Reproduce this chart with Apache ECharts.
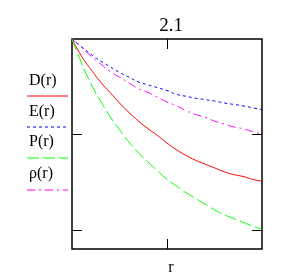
<!DOCTYPE html>
<html>
<head>
<meta charset="utf-8">
<script src="https://cdn.jsdelivr.net/npm/echarts@6/dist/echarts.min.js"></script>
<style>
  html, body { margin: 0; padding: 0; background: #fff; }
  #chart { width: 292px; height: 274px; }
</style>
</head>
<body>
<div id="chart"></div>
<script>
// r values 0 .. 2, step 0.1
var rValues = [0, 0.1, 0.2, 0.3, 0.4, 0.5, 0.6, 0.7, 0.8, 0.9, 1.0,
  1.1, 1.2, 1.3, 1.4, 1.5, 1.6, 1.7, 1.8, 1.9, 2.0];
var seriesNames = ['D(r)', 'E(r)', 'P(r)', 'ρ(r)'];
var dValues = [2.0, 1.82, 1.68, 1.55, 1.44, 1.33, 1.23, 1.14, 1.06, 0.99, 0.91,
  0.84, 0.78, 0.73, 0.69, 0.65, 0.61, 0.58, 0.56, 0.53, 0.51];
var eValues = [2.0, 1.92, 1.84, 1.77, 1.71, 1.65, 1.60, 1.55, 1.52, 1.49, 1.46,
  1.42, 1.40, 1.38, 1.365, 1.35, 1.33, 1.315, 1.30, 1.28, 1.26];
var pValues = [2.0, 1.75, 1.53, 1.35, 1.19, 1.05, 0.92, 0.81, 0.71, 0.62, 0.53,
  0.46, 0.39, 0.33, 0.27, 0.21, 0.16, 0.12, 0.08, 0.04, 0.01];
var rhoValues = [2.0, 1.91, 1.82, 1.74, 1.66, 1.60, 1.54, 1.48, 1.44, 1.39, 1.34,
  1.30, 1.25, 1.21, 1.18, 1.14, 1.11, 1.08, 1.06, 1.03, 1.00];
var yTickValues = [0, 1];
var xTickValues = [1];

var colors = ['#ff0000', '#0000ff', '#00ff00', '#ff00ff'];
var dashes = ['solid', [3, 3], [12, 4], [8, 4, 2, 4]];
var allValues = [dValues, eValues, pValues, rhoValues];
var serif = 'Liberation Serif';
var yMin = -0.2, yMax = 2;
var tickLen = 0.105; // about 10px in y units

function pairs(ys) {
  return rValues.map(function (r, i) { return [r, ys[i]]; });
}

// short vertical ticks on top and bottom edge at each x tick value
var xTickMarks = [];
xTickValues.forEach(function (v) {
  xTickMarks.push([{ coord: [v, yMin] }, { coord: [v, yMin + tickLen] }]);
  xTickMarks.push([{ coord: [v, yMax] }, { coord: [v, yMax - tickLen] }]);
});

var chart = echarts.init(document.getElementById('chart'));

var series = seriesNames.map(function (name, i) {
  return {
    name: name,
    type: 'line',
    smooth: true,
    showSymbol: false,
    silent: true,
    data: pairs(allValues[i]),
    lineStyle: { color: colors[i], width: 1, type: dashes[i] },
    z: 2
  };
});
series[0].markLine = {
  silent: true,
  symbol: ['none', 'none'],
  label: { show: false },
  lineStyle: { color: '#000', width: 1, type: 'solid' },
  data: xTickMarks
};

// legend at the left: label text with line sample under it
var legendTextY = [82, 113, 143, 175];
var legendLineY = [96, 127, 158, 190];
var graphics = [];
seriesNames.forEach(function (name, i) {
  graphics.push({
    type: 'text',
    left: 29,
    top: legendTextY[i] - 9,
    style: { text: name, font: '16px "' + serif + '"', fill: '#000' }
  });
  graphics.push({
    type: 'line',
    shape: { x1: 27, y1: legendLineY[i], x2: 68, y2: legendLineY[i] },
    style: { stroke: colors[i], lineWidth: 1, lineDash: dashes[i] === 'solid' ? null : dashes[i] }
  });
});

var tickStyle = { show: true, inside: true, length: 10, lineStyle: { color: '#000', width: 1 } };
var noLine = { show: false, onZero: false };

var option = {
  animation: false,
  title: {
    text: '2.1',
    left: 166,
    textAlign: 'center',
    top: 12,
    textStyle: { fontFamily: serif, fontWeight: 'normal', fontSize: 19, color: '#000' }
  },
  grid: {
    left: 72, right: 30, top: 39, bottom: 25,
    outerBoundsMode: 'none',
    show: true, borderColor: '#000', borderWidth: 1.5, backgroundColor: 'transparent'
  },
  xAxis: {
    type: 'value', min: 0, max: 2, interval: 1, position: 'bottom',
    name: 'r', nameLocation: 'middle', nameGap: 11,
    nameTextStyle: { fontFamily: serif, fontSize: 16, color: '#000', padding: [0, 0, 0, 8] },
    axisLine: noLine,
    axisTick: { show: false },
    axisLabel: { show: false },
    splitLine: { show: false }
  },
  yAxis: [{
    type: 'value', min: yMin, max: yMax, position: 'left',
    axisLine: noLine,
    axisTick: Object.assign({ customValues: yTickValues }, tickStyle),
    axisLabel: { show: false, customValues: yTickValues },
    splitLine: { show: false }
  }, {
    type: 'value', min: yMin, max: yMax, position: 'right',
    axisLine: noLine,
    axisTick: Object.assign({ customValues: yTickValues }, tickStyle),
    axisLabel: { show: false, customValues: yTickValues },
    splitLine: { show: false }
  }],
  graphic: graphics,
  series: series
};
chart.setOption(option);
</script>
</body>
</html>
